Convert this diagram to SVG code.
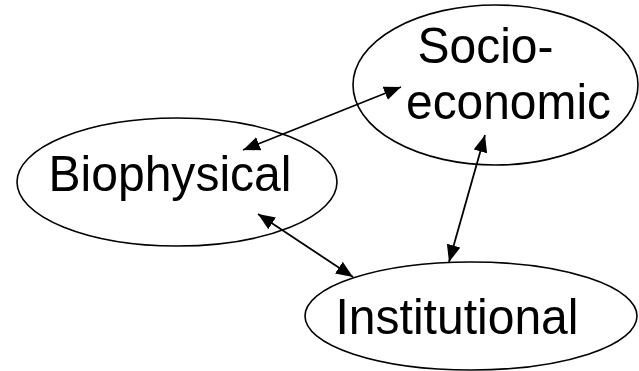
<svg xmlns="http://www.w3.org/2000/svg" width="639" height="371" viewBox="0 0 639 371">
  <style>
    .node ellipse { fill: #ffffff; stroke: #000000; stroke-width: 1.6; }
    .node text { font-family: "Liberation Sans", Arial, sans-serif; font-size: 50px; fill: #000000; }
    .link { stroke: #000000; stroke-width: 1.8; fill: none; marker-start: url(#head); marker-end: url(#head); }
  </style>
  <defs>
    <!-- filled triangular arrowhead used at both ends of every connector -->
    <marker id="head" markerUnits="userSpaceOnUse" markerWidth="18" markerHeight="14" refX="17" refY="7" orient="auto-start-reverse">
      <path d="M0,0 L17,7 L0,14 z" fill="#000000"/>
    </marker>
  </defs>
  <rect width="639" height="371" fill="#ffffff"/>

  <!-- labels are slightly condensed: tall glyphs fitted to fixed widths -->
  <g id="node-biophysical" class="node">
    <ellipse cx="177" cy="182" rx="160" ry="64"/>
    <text x="48.5" y="191" textLength="243" lengthAdjust="spacingAndGlyphs">Biophysical</text>
  </g>

  <g id="node-socioeconomic" class="node">
    <ellipse cx="495.5" cy="85" rx="142.5" ry="80"/>
    <text x="417.5" y="63" textLength="136" lengthAdjust="spacingAndGlyphs">Socio-</text>
    <text x="406" y="119" textLength="205" lengthAdjust="spacingAndGlyphs">economic</text>
  </g>

  <g id="node-institutional" class="node">
    <ellipse cx="471" cy="316" rx="166" ry="54"/>
    <text x="335.5" y="334" textLength="243" lengthAdjust="spacingAndGlyphs">Institutional</text>
  </g>

  <g id="connectors">
    <line class="link" x1="243" y1="150" x2="401" y2="87"/>
    <line class="link" x1="258" y1="214" x2="353" y2="277"/>
    <line class="link" x1="485" y1="135" x2="449" y2="262"/>
  </g>
</svg>
